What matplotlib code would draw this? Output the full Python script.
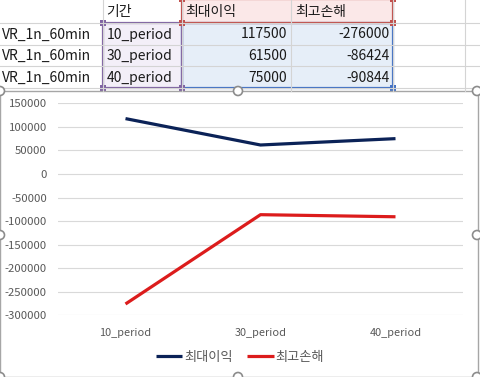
import matplotlib
matplotlib.use('Agg')
import matplotlib.pyplot as plt
from matplotlib.patches import Rectangle, Circle
import numpy as np

plt.rcParams['font.family'] = ['Noto Sans CJK KR', 'DejaVu Sans']

# Dados da planilha / do gráfico
strategy = ['VR_1n_60min', 'VR_1n_60min', 'VR_1n_60min']
periods = ['10_period', '30_period', '40_period']
headers = ['기간', '최대이익', '최고손해']
max_profit = [117500, 61500, 75000]
max_loss = [-276000, -86424, -90844]
yticks = list(range(-300000, 150001, 50000))

W, H = 480, 377
fig = plt.figure(figsize=(W / 100, H / 100), dpi=100)

# Camada de fundo em pixels: planilha
bg = fig.add_axes([0, 0, 1, 1])
bg.set_xlim(0, W)
bg.set_ylim(H, 0)
bg.axis('off')

cols = [0, 102.5, 181.5, 291, 392.5, 465, W]
rows = [0, 22.5, 44.5, 66, 88]
grid = '#D4D4D4'

# preenchimentos de seleção
bg.add_patch(Rectangle((cols[1], rows[1]), cols[2] - cols[1], rows[4] - rows[1], fc='#F3EFF8', ec='none'))
bg.add_patch(Rectangle((cols[2], rows[0]), cols[4] - cols[2], rows[1] - rows[0], fc='#FBE8E8', ec='none'))
bg.add_patch(Rectangle((cols[2], rows[1]), cols[4] - cols[2], rows[4] - rows[1], fc='#E6EEF8', ec='none'))

for y in rows[1:]:
    bg.plot([0, W], [y, y], color=grid, lw=0.8)
for x in cols[1:-1]:
    bg.plot([x, x], [0, 91], color=grid, lw=0.8)

# bordas de seleção
def box(x0, y0, x1, y1, c):
    bg.add_patch(Rectangle((x0, y0), x1 - x0, y1 - y0, fc='none', ec=c, lw=1.6))
    for (cx, cy) in [(x0, y0), (x1, y0), (x0, y1), (x1, y1)]:
        bg.add_patch(Rectangle((cx - 3, cy - 3), 6, 6, fc=c, ec='none'))

box(cols[2], rows[1], cols[4], rows[4], '#4472C4')
box(cols[1], rows[1], cols[2], rows[4], '#8064A2')
box(cols[2], -1, cols[4], rows[1], '#C0504D')

fs = 10
tc = '#1A1A1A'
for i, h in enumerate(headers):
    bg.text(cols[i + 1] + 4, (rows[0] + rows[1]) / 2 + 1, h, fontsize=fs, va='center', ha='left', color=tc)
for r in range(3):
    yc = (rows[r + 1] + rows[r + 2]) / 2 + 1
    bg.text(2, yc, strategy[r], fontsize=fs, va='center', ha='left', color=tc)
    bg.text(cols[1] + 4, yc, periods[r], fontsize=fs, va='center', ha='left', color=tc)
    bg.text(cols[3] - 4, yc, str(max_profit[r]), fontsize=fs, va='center', ha='right', color=tc)
    bg.text(cols[4] - 3, yc, str(max_loss[r]), fontsize=fs, va='center', ha='right', color=tc)

# área do gráfico
bg.add_patch(Rectangle((0, 91), 478, H - 91, fc='white', ec='#A6A6A6', lw=1.0))

# Gráfico
top_px, bot_px = 103.3, 315.3
ax = fig.add_axes([58 / W, 1 - bot_px / H, 405 / W, (bot_px - top_px) / H])
ax.patch.set_alpha(0)
x = np.arange(len(periods))
ax.plot(x, max_profit, color='#0B2257', lw=2.3, label=headers[1], solid_capstyle='butt')
ax.plot(x, max_loss, color='#DC1C1C', lw=2.3, label=headers[2], solid_capstyle='butt')
ax.set_xlim(-0.5, 2.5)
ax.set_ylim(-300000, 150000)
ax.set_yticks(yticks)
ax.set_yticklabels([str(v) for v in yticks])
ax.set_xticks(x)
ax.set_xticklabels(periods)
ax.grid(axis='y', color='#D9D9D9', lw=0.8)
ax.set_axisbelow(True)
for s in ax.spines.values():
    s.set_visible(False)
ax.tick_params(length=0, labelcolor='#595959')
ax.tick_params(axis='y', pad=8, labelsize=8.2)
ax.tick_params(axis='x', pad=9, labelsize=7.9)

leg = fig.legend(loc='center', bbox_to_anchor=(240 / W, 1 - 357 / H), ncol=2, frameon=False,
                 fontsize=9.5, handlelength=2.0, handletextpad=0.15, columnspacing=1.1,
                 labelcolor='#595959')

# alças de seleção do gráfico
hd = fig.add_axes([0, 0, 1, 1])
hd.set_xlim(0, W)
hd.set_ylim(H, 0)
hd.axis('off')
hd.patch.set_alpha(0)
for (cx, cy) in [(0, 91), (238, 91), (477, 91), (0, 235), (477, 235), (0, 377), (238, 377), (477, 377)]:
    hd.add_patch(Circle((cx, cy), 4.5, fc='white', ec='#8C8C8C', lw=1.2, clip_on=False))

fig.savefig('out.png', dpi=100)
